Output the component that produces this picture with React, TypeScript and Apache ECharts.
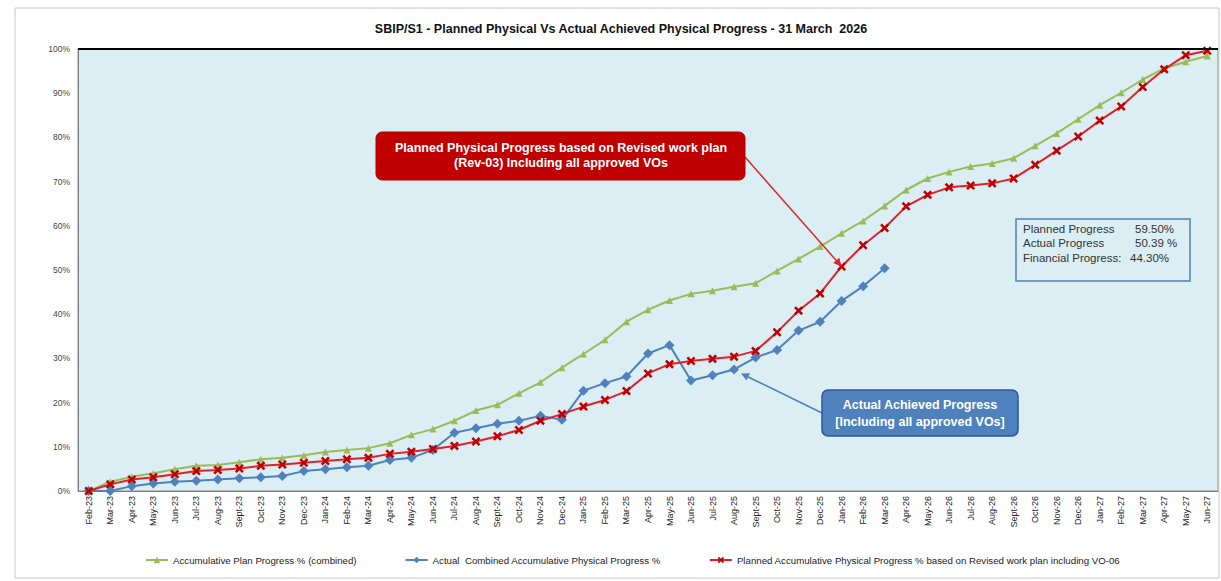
import React, { useEffect, useRef } from "react";
import * as echarts from "echarts";

const categories = [
  "Feb-23", "Mar-23", "Apr-23", "May-23", "Jun-23", "Jul-23", "Aug-23", "Sept-23", "Oct-23", "Nov-23", "Dec-23",
  "Jan-24", "Feb-24", "Mar-24", "Apr-24", "May-24", "Jun-24", "Jul-24", "Aug-24", "Sept-24", "Oct-24", "Nov-24", "Dec-24",
  "Jan-25", "Feb-25", "Mar-25", "Apr-25", "May-25", "Jun-25", "Jul-25", "Aug-25", "Sept-25", "Oct-25", "Nov-25", "Dec-25",
  "Jan-26", "Feb-26", "Mar-26", "Apr-26", "May-26", "Jun-26", "Jul-26", "Aug-26", "Sept-26", "Oct-26", "Nov-26", "Dec-26",
  "Jan-27", "Feb-27", "Mar-27", "Apr-27", "May-27", "Jun-27",
];

const planCombined = [
  0, 2.1, 3.2, 4.0, 4.9, 5.7, 5.9, 6.5, 7.2, 7.5, 8.1, 8.8, 9.3, 9.7, 10.8, 12.7, 14.0, 15.9,
  18.2, 19.5, 22.1, 24.6, 27.9, 31.0, 34.2, 38.3, 41.0, 43.1, 44.6, 45.3, 46.2, 47.0,
  49.8, 52.5, 55.3, 58.3, 61.1, 64.5, 68.1, 70.7, 72.2, 73.4, 74.1, 75.3, 78.1, 80.9, 84.1,
  87.3, 90.1, 93.1, 95.6, 97.1, 98.4,
];

const actualCombined: (number | null)[] = [
  0, 0, 1.1, 1.7, 2.1, 2.3, 2.6, 2.9, 3.1, 3.4, 4.5, 4.9, 5.4, 5.7, 7.0, 7.5, 9.3, 13.2,
  14.2, 15.2, 15.9, 17.0, 16.1, 22.7, 24.4, 25.9, 31.1, 33.0, 25.0, 26.2, 27.5, 30.2,
  31.9, 36.3, 38.3, 43.0, 46.3, 50.39,
  null, null, null, null, null, null, null, null, null, null, null, null, null, null, null,
];

const revisedPlan = [
  0, 1.5, 2.6, 3.1, 3.8, 4.5, 4.75, 5.1, 5.7, 6.0, 6.4, 6.8, 7.2, 7.5, 8.4, 8.9, 9.5, 10.2,
  11.2, 12.4, 13.8, 15.9, 17.4, 19.1, 20.6, 22.6, 26.6, 28.7, 29.4, 29.9, 30.4, 31.7,
  35.9, 40.8, 44.7, 50.8, 55.6, 59.5, 64.4, 67.0, 68.7, 69.1, 69.6, 70.7, 73.8, 77.0, 80.2,
  83.8, 87.0, 91.4, 95.4, 98.6, 99.6,
];

const seriesNames = [
  "Accumulative Plan Progress % (combined)",
  "Actual  Combined Accumulative Physical Progress %",
  "Planned Accumulative Physical Progress % based on Revised work plan including VO-06",
];

const infoRows = [
  ["Planned Progress", "59.50%"],
  ["Actual Progress", "50.39 %"],
  ["Financial Progress:", "44.30%"],
];

const FONT = "'Liberation Sans', Arial, sans-serif";
const X_PATH = "path://M2,0 L5,3 L8,0 L10,2 L7,5 L10,8 L8,10 L5,7 L2,10 L0,8 L3,5 L0,2 Z";

function arrow(x1: number, y1: number, x2: number, y2: number, color: string, width: number) {
  const dx = x2 - x1;
  const dy = y2 - y1;
  const len = Math.sqrt(dx * dx + dy * dy);
  const ux = dx / len;
  const uy = dy / len;
  const L = 8;
  const W = 4;
  const bx = x2 - ux * L;
  const by = y2 - uy * L;
  return [
    {
      type: "line",
      z: 100,
      silent: true,
      shape: { x1, y1, x2: bx, y2: by },
      style: { stroke: color, lineWidth: width },
    },
    {
      type: "polygon",
      z: 100,
      silent: true,
      shape: {
        points: [
          [x2, y2],
          [bx - uy * W, by + ux * W],
          [bx + uy * W, by - ux * W],
        ],
      },
      style: { fill: color },
    },
  ];
}

export default function App() {
  const ref = useRef<HTMLDivElement>(null);

  useEffect(() => {
    if (!ref.current) return;
    const chart = echarts.init(ref.current, undefined, { renderer: "svg" });

    const option: any = {
      animation: false,
      backgroundColor: "#ffffff",
      textStyle: { fontFamily: FONT },
      title: {
        text: "SBIP/S1 - Planned Physical Vs Actual Achieved Physical Progress - 31 March  2026",
        left: 616,
        top: 17,
        textAlign: "center",
        textStyle: { fontSize: 12.5, fontWeight: "bold", color: "#111", fontFamily: FONT },
      },
      grid: {
        left: 78,
        right: 3,
        top: 49,
        bottom: 90,
        show: true,
        backgroundColor: "#DAEEF3",
        borderColor: "#8C8C8C",
        borderWidth: 1,
        containLabel: false,
      },
      legend: {
        bottom: 11,
        left: 140,
        width: 1075,
        itemGap: 48,
        itemWidth: 22,
        itemHeight: 8,
        textStyle: { fontSize: 9.7, color: "#222", fontFamily: FONT },
        data: seriesNames,
      },
      xAxis: {
        type: "category",
        data: categories,
        boundaryGap: true,
        axisLine: { show: true, lineStyle: { color: "#7F7F7F", width: 1 } },
        axisTick: { show: false },
        axisLabel: {
          rotate: 90,
          interval: 0,
          fontSize: 9,
          color: "#222",
          margin: 5,
          fontFamily: FONT,
        },
        splitLine: { show: false },
      },
      yAxis: {
        type: "value",
        min: 0,
        max: 100,
        interval: 10,
        axisLine: { show: true, lineStyle: { color: "#7F7F7F", width: 1 } },
        axisTick: { show: false },
        axisLabel: { formatter: "{value}%", fontSize: 8.5, color: "#444", margin: 8, fontFamily: FONT },
        splitLine: { show: false },
      },
      series: [
        {
          name: seriesNames[0],
          type: "line",
          data: planCombined,
          symbol: "triangle",
          symbolSize: 7,
          lineStyle: { color: "#9BBB59", width: 2 },
          itemStyle: { color: "#9BBB59" },
          z: 2,
          markLine: {
            silent: true,
            symbol: "none",
            label: { show: false },
            lineStyle: { color: "#000", width: 2, type: "solid" },
            data: [{ yAxis: 100 }],
          },
        },
        {
          name: seriesNames[1],
          type: "line",
          data: actualCombined,
          symbol: "diamond",
          symbolSize: 10,
          lineStyle: { color: "#4F81BD", width: 2 },
          itemStyle: { color: "#4F81BD" },
          z: 3,
        },
        {
          name: seriesNames[2],
          type: "line",
          data: revisedPlan,
          symbol: X_PATH,
          symbolSize: 9,
          lineStyle: { color: "#E0202A", width: 2 },
          itemStyle: { color: "#C00000" },
          z: 4,
        },
      ],
    };

    chart.setOption(option);

    const redPt = chart.convertToPixel({ seriesIndex: 2 }, [35, revisedPlan[35]]) as number[];
    const bluePt = chart.convertToPixel({ seriesIndex: 1 }, [30, actualCombined[30] as number]) as number[];

    const graphics: any[] = [
      {
        type: "rect",
        z: 0,
        silent: true,
        shape: { x: 15, y: 8, width: 1204, height: 570 },
        style: { fill: "none", stroke: "#C8C8C8", lineWidth: 1 },
      },
      ...arrow(745, 157, redPt[0], redPt[1], "#D9262B", 1.5),
      ...arrow(822, 413, bluePt[0] + 7, bluePt[1] + 4, "#4F81BD", 1.5),
      {
        type: "rect",
        z: 101,
        silent: true,
        shape: { x: 376, y: 132, width: 369, height: 48, r: 6 },
        style: { fill: "#C00000", stroke: "#B00000", lineWidth: 1 },
      },
      {
        type: "text",
        z: 102,
        silent: true,
        style: {
          text: "Planned Physical Progress based on Revised work plan\n(Rev-03) Including all approved VOs",
          x: 561,
          y: 155,
          align: "center",
          verticalAlign: "middle",
          fill: "#ffffff",
          fontSize: 12.5,
          fontWeight: "bold",
          fontFamily: FONT,
          lineHeight: 15,
        },
      },
      {
        type: "rect",
        z: 101,
        silent: true,
        shape: { x: 822, y: 390, width: 196, height: 46, r: 6 },
        style: { fill: "#4F81BD", stroke: "#2F5597", lineWidth: 1.5 },
      },
      {
        type: "text",
        z: 102,
        silent: true,
        style: {
          text: "Actual Achieved Progress\n[Including all approved VOs]",
          x: 920,
          y: 413,
          align: "center",
          verticalAlign: "middle",
          fill: "#ffffff",
          fontSize: 12.5,
          fontWeight: "bold",
          fontFamily: FONT,
          lineHeight: 17,
        },
      },
      {
        type: "rect",
        z: 101,
        silent: true,
        shape: { x: 1016, y: 219, width: 174, height: 62 },
        style: { fill: "none", stroke: "#4F81BD", lineWidth: 1.5 },
      },
    ];

    const rowY = [229, 243, 258];
    infoRows.forEach((row, i) => {
      graphics.push({
        type: "text",
        z: 102,
        silent: true,
        style: {
          text: row[0],
          x: 1023,
          y: rowY[i],
          align: "left",
          verticalAlign: "middle",
          fill: "#333",
          fontSize: 11.5,
          fontFamily: FONT,
        },
      });
      graphics.push({
        type: "text",
        z: 102,
        silent: true,
        style: {
          text: row[1],
          x: i === 2 ? 1130 : 1135,
          y: rowY[i],
          align: "left",
          verticalAlign: "middle",
          fill: "#333",
          fontSize: 11.5,
          fontFamily: FONT,
        },
      });
    });

    chart.setOption({ graphic: graphics });

    return () => {
      chart.dispose();
    };
  }, []);

  return (
    <div
      ref={ref}
      style={{ position: "fixed", left: 0, top: 0, width: 1221, height: 581 }}
    />
  );
}
